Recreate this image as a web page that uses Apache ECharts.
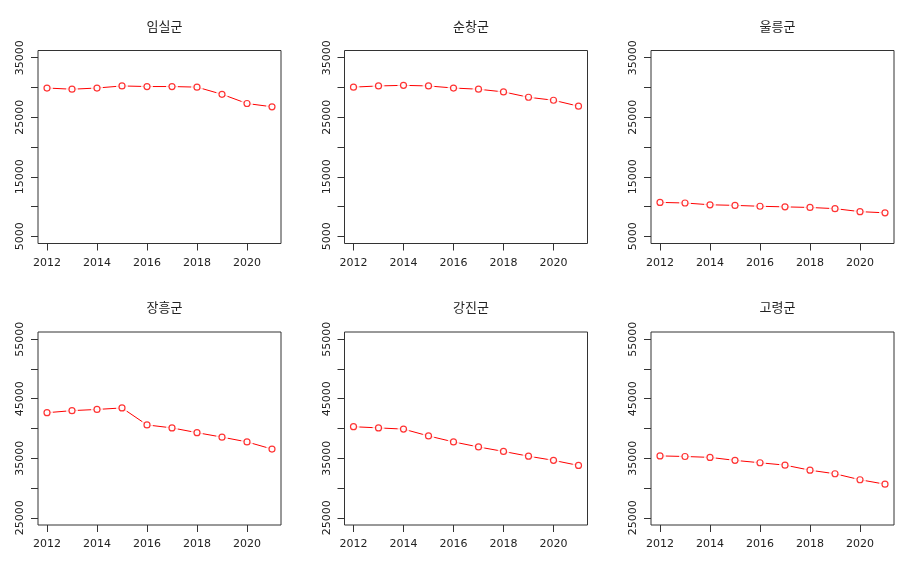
<!DOCTYPE html>
<html>
<head>
<meta charset="utf-8">
<script src="https://cdn.jsdelivr.net/npm/echarts@6/dist/echarts.min.js"></script>
<style>html,body{margin:0;padding:0;background:#fff}#c{width:920px;height:563px}</style>
</head>
<body>
<div id="c"></div>
<script>
var years = [2012, 2013, 2014, 2015, 2016, 2017, 2018, 2019, 2020, 2021];
var imsil = [29900, 29700, 29900, 30250, 30150, 30150, 30050, 28850, 27300, 26750];
var sunchang = [30050, 30250, 30350, 30250, 29900, 29700, 29250, 28350, 27850, 26850];
var ulleung = [10700, 10600, 10300, 10200, 10050, 9950, 9850, 9650, 9150, 8950];
var jangheung = [42650, 43000, 43200, 43450, 40600, 40100, 39300, 38550, 37750, 36550];
var gangjin = [40300, 40100, 39900, 38750, 37750, 36900, 36150, 35350, 34650, 33800];
var goryeong = [35400, 35300, 35150, 34650, 34250, 33850, 33000, 32400, 31400, 30650];

var names = ['임실군', '순창군', '울릉군', '장흥군', '강진군', '고령군'];
var seriesData = [imsil, sunchang, ulleung, jangheung, gangjin, goryeong];

var xTicks = [2012, 2014, 2016, 2018, 2020];
var topYTicks = [5000, 10000, 15000, 20000, 25000, 30000, 35000];
var topYLabels = [5000, 15000, 25000, 35000];
var bottomYTicks = [25000, 30000, 35000, 40000, 45000, 50000, 55000];
var bottomYLabels = [25000, 35000, 45000, 55000];

var colLefts = [38, 344.5, 651];
var rowTops = [50.5, 332];
var gw = 243, gh = 193;
var axisColor = '#333';
var font = 'DejaVu Sans';

var option = {animation: false, backgroundColor: '#fff', title: [], grid: [], xAxis: [], yAxis: [], series: []};

for (var i = 0; i < 6; i++) {
  var r = Math.floor(i / 3), c = i % 3;
  var yt = r === 0 ? topYTicks : bottomYTicks;
  var yl = r === 0 ? topYLabels : bottomYLabels;
  var ymin = yt[0], ymax = yt[yt.length - 1];
  var pad = (ymax - ymin) * 0.04;
  var xpad = (years[years.length - 1] - years[0]) * 0.04;
  option.title.push({
    text: names[i], left: colLefts[c] + gw / 2, top: rowTops[r] - 36, textAlign: 'center',
    textStyle: {fontFamily: 'Noto Sans CJK KR', fontSize: 13, fontWeight: 'normal', color: '#222'}
  });
  option.grid.push({left: colLefts[c], top: rowTops[r], width: gw, height: gh, show: true,
    borderColor: axisColor, borderWidth: 1, backgroundColor: 'transparent', containLabel: false});
  option.xAxis.push({
    type: 'value', gridIndex: i, min: years[0] - xpad, max: years[years.length - 1] + xpad,
    axisLine: {show: false}, splitLine: {show: false},
    axisTick: {show: true, length: 7, lineStyle: {color: axisColor}, customValues: xTicks},
    axisLabel: {show: true, margin: 14, color: '#222', fontFamily: font, fontSize: 11, customValues: xTicks,
      formatter: function (v) { return String(Math.round(v)); }}
  });
  option.yAxis.push({
    type: 'value', gridIndex: i, min: ymin - pad, max: ymax + pad,
    axisLine: {show: false}, splitLine: {show: false},
    axisTick: {show: true, length: 7, lineStyle: {color: axisColor}, customValues: yt},
    axisLabel: {show: true, rotate: 90, margin: 12, color: '#222', fontFamily: font, fontSize: 11, customValues: yl,
      formatter: function (v) { return String(Math.round(v)); }}
  });
  var pts = years.map(function (y, k) { return [y, seriesData[i][k]]; });
  option.series.push({type: 'line', xAxisIndex: i, yAxisIndex: i, data: pts, showSymbol: false, symbol: 'none',
    lineStyle: {color: '#ff0000', width: 1}, z: 2, silent: true});
  option.series.push({type: 'scatter', xAxisIndex: i, yAxisIndex: i, data: pts, symbol: 'circle', symbolSize: 12,
    itemStyle: {color: '#ffffff'}, z: 3, silent: true});
  option.series.push({type: 'scatter', xAxisIndex: i, yAxisIndex: i, data: pts, symbol: 'circle', symbolSize: 6,
    itemStyle: {color: '#ffffff', borderColor: '#ff0000', borderWidth: 1.2}, z: 4, silent: true});
}

var chart = echarts.init(document.getElementById('c'));
chart.setOption(option);
</script>
</body>
</html>
